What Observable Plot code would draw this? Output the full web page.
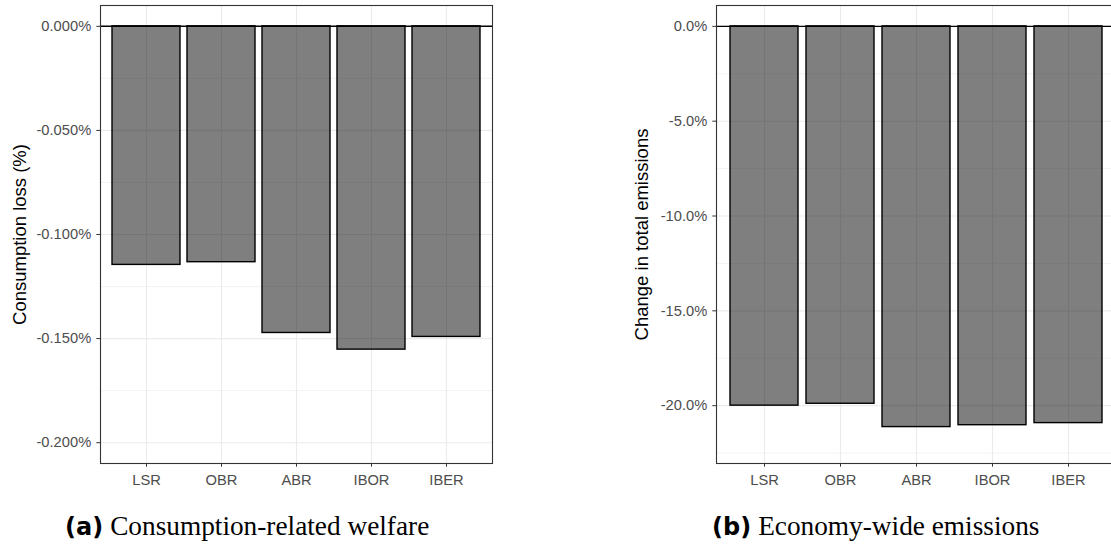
<!DOCTYPE html>
<html>
<head>
<meta charset="utf-8">
<script src="https://cdn.jsdelivr.net/npm/d3@7"></script>
<script src="https://cdn.jsdelivr.net/npm/@observablehq/plot@0.6"></script>
<style>
  html, body { margin: 0; padding: 0; background: #fff; overflow: hidden; width: 1111px; height: 544px; }
  .panel { position: absolute; top: 0; overflow: hidden; }
  .panel svg { max-width: none !important; }
  .cap { position: absolute; white-space: nowrap; line-height: 1; color: #000; }
  .cap b { font-family: "DejaVu Sans", sans-serif; font-weight: bold; font-size: 24px; }
  .cap span { font-family: "Liberation Serif", serif; font-size: 27.3px; margin-left: 3px; }
</style>
</head>
<body>
<div id="pa" class="panel" style="left:0px;width:560px;height:500px;"></div>
<div id="pb" class="panel" style="left:600px;width:511px;height:500px;"></div>
<div class="cap" style="left:65px;top:513px;"><b>(a)</b> <span>Consumption-related welfare</span></div>
<div class="cap" style="left:712px;top:513px;"><b>(b)</b> <span>Economy-wide emissions</span></div>
<script>
const categories = ["LSR", "OBR", "ABR", "IBOR", "IBER"];
const welfareLoss = [-0.1146, -0.1133, -0.1473, -0.1553, -0.1492];
const emissionsChange = [-20.0, -19.9, -21.13, -21.03, -20.92];
const welfareTicks = [0, -0.05, -0.1, -0.15, -0.2];
const welfareMinor = [-0.025, -0.075, -0.125, -0.175];
const emissionTicks = [0, -5, -10, -15, -20];
const emissionMinor = [-2.5, -7.5, -12.5, -17.5, -22.5];
const welfareTitle = "Consumption loss (%)";
const emissionTitle = "Change in total emissions";

const FONT = "'Liberation Sans', Arial, sans-serif";

function panel({values, domain, ticks, minor, fmt, title, width, marginLeft, marginRight, titleDx}) {
  const data = categories.map((c, i) => ({cat: c, v: values[i]}));
  return Plot.plot({
    width, height: 500,
    marginLeft, marginRight, marginTop: 5, marginBottom: 37,
    style: {fontFamily: FONT, fontSize: "14.7px", background: "white", overflow: "visible", maxWidth: "none"},
    x: {domain: categories, type: "band", paddingInner: 0.1, paddingOuter: 0.15, align: 0.5},
    y: {domain},
    marks: [
      Plot.gridX(categories, {stroke: "#ebebeb", strokeOpacity: 1, strokeWidth: 1.1}),
      Plot.ruleY(minor, {stroke: "#ebebeb", strokeWidth: 0.6}),
      Plot.ruleY(ticks, {stroke: "#ebebeb", strokeWidth: 1.1}),
      Plot.barY(data, {x: "cat", y: "v", fill: "black", fillOpacity: 0.5, stroke: "black", strokeWidth: 1.4}),
      Plot.ruleY([0], {stroke: "black", strokeWidth: 1.4}),
      Plot.frame({stroke: "#333333", strokeWidth: 1.1}),
      Plot.axisY({ticks, tickFormat: fmt, tickSize: 3.7, tickPadding: 5.6, fontSize: 14.7,
                  fill: "#4d4d4d", stroke: "#333333", label: null}),
      Plot.axisX({tickSize: 3.7, tickPadding: 7, fontSize: 14.7,
                  fill: "#4d4d4d", stroke: "#333333", label: null}),
      Plot.text([title], {text: d => d, frameAnchor: "left", rotate: -90, dx: titleDx,
                  fontSize: 18.5, fill: "black", textAnchor: "middle", lineAnchor: "middle"})
    ]
  });
}

document.getElementById("pa").appendChild(panel({
  values: welfareLoss, domain: [-0.21, 0.01], ticks: welfareTicks, minor: welfareMinor,
  fmt: d => d.toFixed(3) + "%", title: welfareTitle,
  width: 500, marginLeft: 100, marginRight: 8, titleDx: -80
}));

document.getElementById("pb").appendChild(panel({
  values: emissionsChange, domain: [-23.05, 1.1], ticks: emissionTicks, minor: emissionMinor,
  fmt: d => d.toFixed(1) + "%", title: emissionTitle,
  width: 516, marginLeft: 116, marginRight: 0, titleDx: -74
}));
</script>
</body>
</html>
